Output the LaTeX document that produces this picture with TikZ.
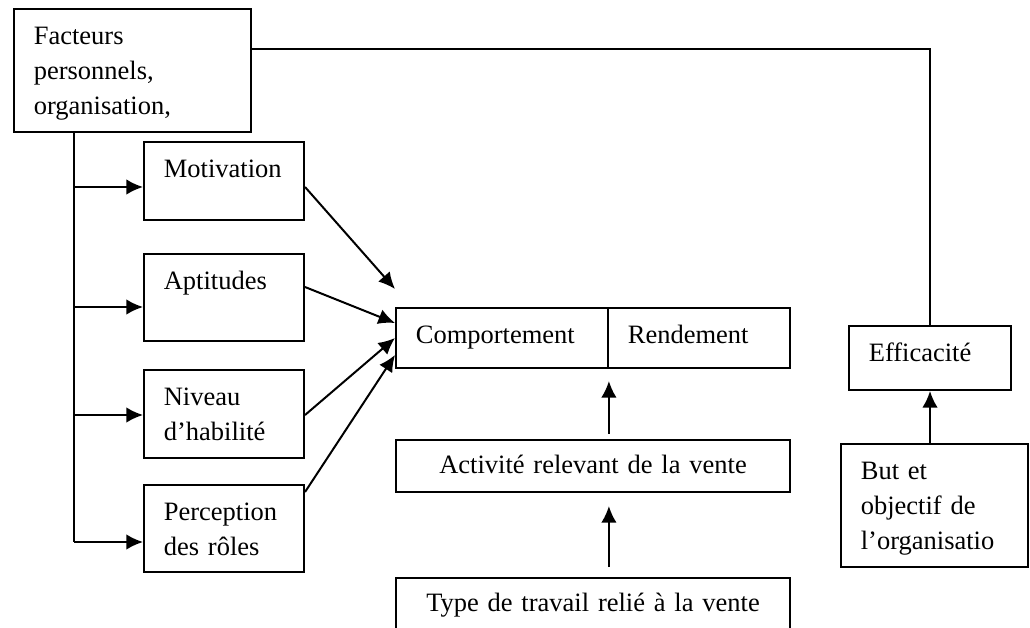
\documentclass[tikz,border=0pt]{standalone}
\usepackage{fontspec}
\setmainfont{Liberation Serif}
\usetikzlibrary{arrows.meta,calc}

\begin{document}
\begin{tikzpicture}[x=0.453pt, y=-0.453pt, line width=0.9pt,
    font=\fontsize{12}{15.9}\selectfont,
    box/.style={rectangle, draw, anchor=north west, inner sep=0pt, align=left,
        text height=15.9pt, execute at begin node={\leftskip=9pt}},
    cbox/.style={rectangle, draw, anchor=north west, inner sep=0pt, align=center,
        text height=15.4pt},
    arr/.style={-{Latex[length=7.5pt, width=7pt]}}]
    \useasboundingbox (0,0) rectangle (1030,628);
    \clip (0,0) rectangle (1030,628);

    \node[box, text width=107.4pt, text depth=39.8pt] (fac) at (13,8) {Facteurs\\personnels,\\organisation,};

    \node[box, text width=72.5pt, text depth=19.4pt] (mot) at (143,141) {Motivation};
    \node[box, text width=72.5pt, text depth=23.5pt] (apt) at (143,253) {Aptitudes};
    \node[box, text width=72.5pt, text depth=24.0pt] (niv) at (143,369) {Niveau\\d’habilité};
    \node[box, text width=72.5pt, text depth=23.5pt] (per) at (143,484) {Perception\\des rôles};

    \node[box, text width=96.0pt, text depth=11.3pt] (comp) at (395,307) {Comportement};
    \node[box, text width=82.4pt, text depth=11.3pt] (rend) at (607,307) {Rendement};
    \node[cbox, text width=178.5pt, text depth=8.2pt] (act) at (395,439) {Activité relevant de la vente};
    \node[cbox, text width=178.5pt, text depth=20pt] (typ) at (395,577) {Type de travail relié à la vente};

    \node[box, text width=73.4pt, text depth=13.1pt] (eff) at (848,325) {Efficacité};
    \node[box, text width=84.7pt, text depth=39.8pt] (but) at (840,443) {But et\\objectif de\\l’organisatio};

    % tige a gauche
    \coordinate (s1) at (74,187);
    \coordinate (s2) at (74,307);
    \coordinate (s3) at (74,415);
    \coordinate (s4) at (74,542);
    \draw (fac.south -| s1) -- (s4);
    \draw[arr] (s1) -- (s1 -| mot.west);
    \draw[arr] (s2) -- (s2 -| apt.west);
    \draw[arr] (s3) -- (s3 -| niv.west);
    \draw[arr] (s4) -- (s4 -| per.west);

    \draw[arr] ($(mot.north east)+(0,46)$) -- ($(comp.north west)+(0,-18)$);
    \draw[arr] ($(apt.north east)+(0,34)$) -- ($(comp.north west)+(0,16)$);
    \draw[arr] ($(niv.north east)+(0,46)$) -- ($(comp.north west)+(0,31)$);
    \draw[arr] ($(per.north east)+(0,8)$) -- ($(comp.north west)+(0,48)$);

    \draw[arr] ($(act.north -| comp.south east)+(0,-5)$) -- ($(comp.south east)+(0,12)$);
    \draw[arr] ($(typ.north -| comp.south east)+(0,-10)$) -- ($(act.south -| comp.south east)+(0,13)$);

    \draw[arr] (eff.south |- but.north) -- (eff.south);
    \draw ($(fac.north east)+(0,41)$) -| (eff.north);

\end{tikzpicture}
\end{document}
